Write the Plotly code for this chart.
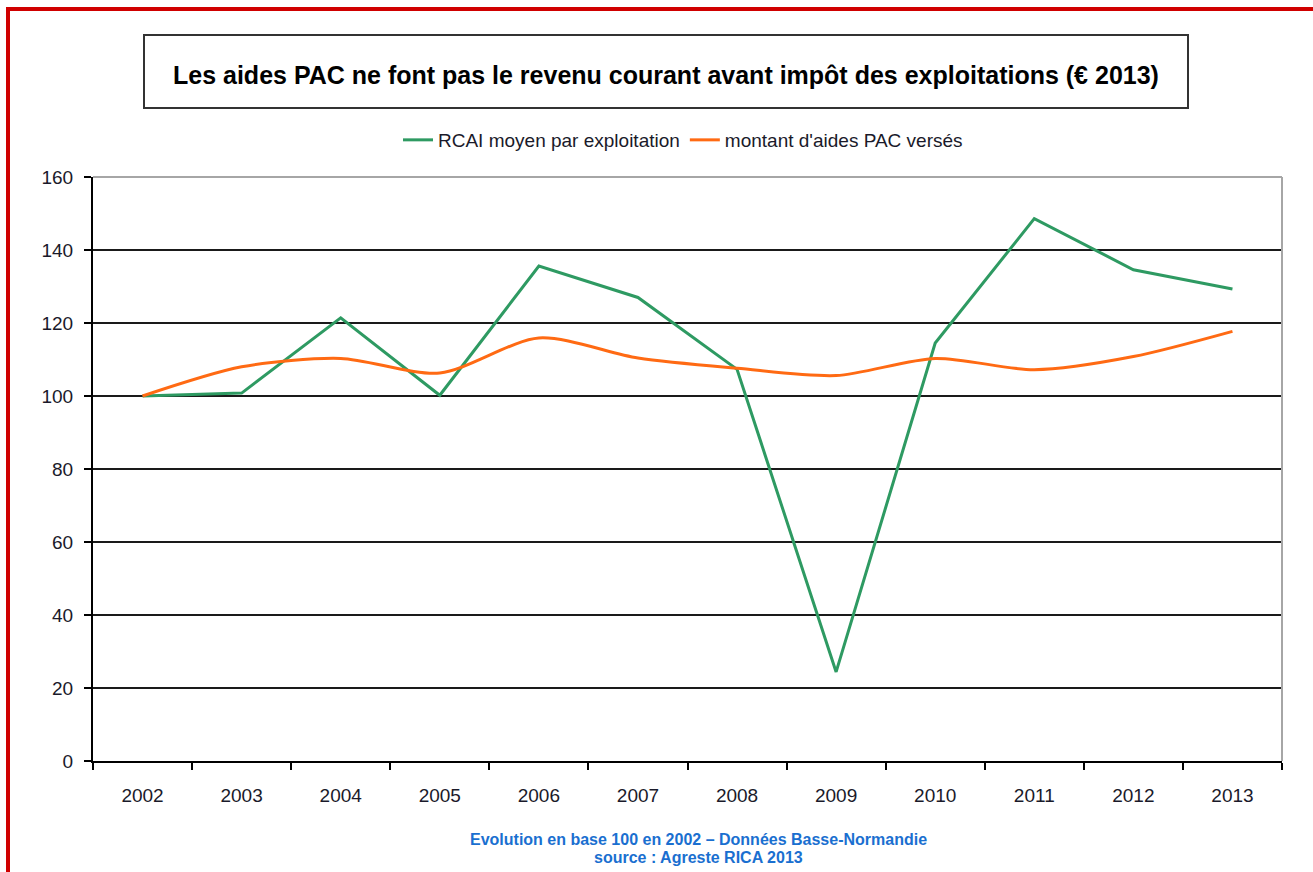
import plotly.graph_objects as go

years = ["2002", "2003", "2004", "2005", "2006", "2007", "2008", "2009", "2010", "2011", "2012", "2013"]
rcai = [100, 100.8, 121.4, 100.2, 135.6, 127.0, 107.3, 24.4, 114.5, 148.6, 134.6, 129.3]
aides = [100, 108.0, 110.3, 106.3, 115.9, 110.4, 107.6, 105.6, 110.3, 107.2, 110.8, 117.7]
y_ticks = [0, 20, 40, 60, 80, 100, 120, 140, 160]

W, H = 1313, 872
L, R, T, B = 93, 31, 177, 111
PW, PH = W - L - R, H - T - B


def px(x):
    return (x - L) / PW


def py(y):
    return (H - B - y) / PH


fig = go.Figure()
fig.add_trace(go.Scatter(
    x=years, y=rcai, mode="lines", name="RCAI moyen par exploitation",
    line=dict(color="#2e9a62", width=3)))
fig.add_trace(go.Scatter(
    x=years, y=aides, mode="lines", name="montant d'aides PAC versés",
    line=dict(color="#ff6a13", width=3, shape="spline", smoothing=0.8)))

shapes = [
    # red frame (top and left visible)
    dict(type="line", xref="paper", yref="paper", x0=px(8), x1=px(1320), y0=py(9), y1=py(9),
         line=dict(color="#d00000", width=4)),
    dict(type="line", xref="paper", yref="paper", x0=px(8), x1=px(8), y0=py(7), y1=py(880),
         line=dict(color="#d00000", width=4)),
    # title box
    dict(type="rect", xref="paper", yref="paper", x0=px(144), x1=px(1188), y0=py(35), y1=py(108),
         line=dict(color="#333333", width=2), fillcolor="white"),
    # plot border top and right (gray)
    dict(type="line", xref="paper", yref="paper", x0=0, x1=1, y0=1, y1=1,
         line=dict(color="#a6a6a6", width=2), layer="above"),
    dict(type="line", xref="paper", yref="paper", x0=1, x1=1, y0=0, y1=1,
         line=dict(color="#a6a6a6", width=2), layer="above"),
]

annotations = [
    dict(xref="paper", yref="paper", x=px(666), y=py(75), showarrow=False,
         text="<b>Les aides PAC ne font pas le revenu courant avant impôt des exploitations (€ 2013)</b>",
         font=dict(family="Liberation Sans, Arial", size=25, color="#000000"),
         xanchor="center", yanchor="middle"),
    dict(xref="paper", yref="paper", x=px(698), y=py(839), showarrow=False,
         text="<b>Evolution en base 100 en 2002 – Données Basse-Normandie</b>",
         font=dict(family="Liberation Sans, Arial", size=16, color="#1a6fd0"),
         xanchor="center", yanchor="middle"),
    dict(xref="paper", yref="paper", x=px(698), y=py(857), showarrow=False,
         text="<b>source : Agreste RICA 2013</b>",
         font=dict(family="Liberation Sans, Arial", size=16, color="#1a6fd0"),
         xanchor="center", yanchor="middle"),
]

fig.update_layout(
    width=W, height=H,
    margin=dict(l=L, r=R, t=T, b=B, pad=0),
    paper_bgcolor="white", plot_bgcolor="white",
    font=dict(family="Liberation Sans, Arial", color="#1a1a2a"),
    shapes=shapes, annotations=annotations,
    showlegend=True,
    legend=dict(orientation="h", x=px(683), xanchor="center", y=py(140), yanchor="middle",
                font=dict(size=19, color="#1a1a2a"), bgcolor="rgba(0,0,0,0)",
                itemwidth=30, tracegroupgap=0),
    xaxis=dict(type="category", tickson="boundaries", showgrid=False,
               showline=True, linecolor="#000000", linewidth=2,
               ticks="outside", ticklen=7, tickcolor="#000000", tickwidth=2,
               tickfont=dict(size=19, color="#1a1a2a"), ticklabelstandoff=16,
               range=[-0.5, 11.5], zeroline=False),
    yaxis=dict(range=[0, 160], tickvals=y_ticks, showgrid=True, gridcolor="#1a1a1a", gridwidth=1.8,
               showline=True, linecolor="#000000", linewidth=2,
               ticks="outside", ticklen=7, tickcolor="#000000", tickwidth=2,
               tickfont=dict(size=19, color="#1a1a2a"), ticklabelstandoff=7,
               zeroline=False),
)

fig.write_html("out.html", config={"displayModeBar": False},
               post_script="document.body.style.margin='0';")
